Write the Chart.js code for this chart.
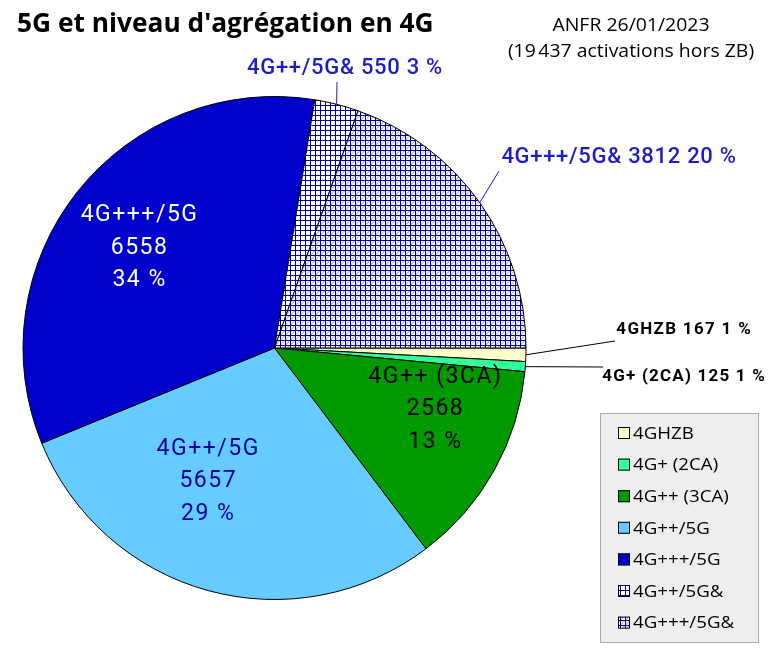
<!DOCTYPE html>
<html>
<head>
<meta charset="utf-8">
<script src="https://cdn.jsdelivr.net/npm/chart.js@4.4.0/dist/chart.umd.min.js"></script>
<style>
  html, body { margin: 0; padding: 0; background: #fff; }
  canvas { display: block; }
</style>
</head>
<body>
<canvas id="camembert" width="769" height="650"></canvas>
<script>
// données ANFR 26/01/2023
const categories = ['4GHZB', '4G+ (2CA)', '4G++ (3CA)', '4G++/5G', '4G+++/5G', '4G++/5G&', '4G+++/5G&'];
const activations = [167, 125, 2568, 5657, 6558, 550, 3812];
const titre = "5G et niveau d'agrégation en 4G";
const sousTitre = ['ANFR 26/01/2023', '(19\u202f437 activations hors ZB)'];

const cv = document.getElementById('camembert');
const ctx = cv.getContext('2d');

// motifs quadrillés pour les deux parts "&"
function motif(diagonale) {
  const t = document.createElement('canvas');
  t.width = 5; t.height = 5;
  const c = t.getContext('2d');
  c.fillStyle = '#fff';
  c.fillRect(0, 0, 5, 5);
  if (diagonale) {
    c.strokeStyle = '#8f8fdc';
    c.lineWidth = 1;
    c.beginPath();
    c.moveTo(0.5, 5);
    c.lineTo(5, 0.5);
    c.stroke();
  }
  c.fillStyle = '#000099';
  c.fillRect(0, 0, 5, 1);
  c.fillRect(0, 0, 1, 5);
  return ctx.createPattern(t, 'repeat');
}

const couleurs = ['#ffffcc', '#33ff99', '#009900', '#66ccff', '#0000cc', motif(false), motif(true)];

const total = activations.reduce((a, b) => a + b, 0);
const pct = (v) => Math.round(v / total * 100) + ' %';

// texte élargi horizontalement (le rendu d'origine est plus large)
function texte(c, t, x, y, sx) {
  c.save();
  c.translate(x, y);
  c.scale(sx, 1);
  c.fillText(t, 0, 0);
  c.restore();
}

// étiquettes dans les parts (r = fraction du rayon, da = décalage en degrés)
const etiqInt = {
  2: { r: 0.68, da: -8.4, couleur: '#000000' },
  3: { r: 0.59, da: 11.6, couleur: '#000099' },
  4: { r: 0.673, da: -1.9, couleur: '#ffffff' }
};
// étiquettes hors du camembert avec trait de rappel
const etiqExt = {
  0: { bout: [615, 341], txt: [752, 330], align: 'right', couleur: '#000', trait: '#000', font: 'bold 17px Roboto', esp: '1.3px' },
  1: { bout: [603, 367], txt: [766, 377], align: 'right', couleur: '#000', trait: '#000', font: 'bold 17px Roboto', esp: '1.2px' },
  5: { bout: [337, 82], txt: [345, 68], align: 'center', couleur: '#1c1cc8', trait: '#1c1cc8', font: '500 22px Roboto', esp: '0.7px' },
  6: { bout: [499, 171], txt: [619, 157], align: 'center', couleur: '#1c1cc8', trait: '#1c1cc8', font: '500 22px Roboto', esp: '0.7px' }
};

const habillage = {
  id: 'habillage',
  afterDraw(chart) {
    const c = chart.ctx;
    const arcs = chart.getDatasetMeta(0).data;
    c.save();
    c.textBaseline = 'middle';

    // titre
    c.fillStyle = '#000';
    c.textAlign = 'left';
    c.font = 'bold 26.3px "Open Sans"';
    c.fillText(titre, 17, 25);

    c.textAlign = 'center';
    c.font = '17.5px "Open Sans"';
    texte(c, sousTitre[0], 631, 26, 1.11);
    texte(c, sousTitre[1], 631, 52, 1.11);

    // étiquettes intérieures
    Object.keys(etiqInt).forEach((k) => {
      const i = +k, e = etiqInt[k];
      const a = arcs[i].getProps(['x', 'y', 'startAngle', 'endAngle', 'outerRadius'], true);
      const m = (a.startAngle + a.endAngle) / 2 + e.da * Math.PI / 180;
      const x = a.x + Math.cos(m) * a.outerRadius * e.r;
      const y = a.y + Math.sin(m) * a.outerRadius * e.r;
      c.fillStyle = e.couleur;
      c.font = '23px Roboto';
      c.letterSpacing = '1.5px';
      const lignes = [categories[i], String(activations[i]), pct(activations[i])];
      lignes.forEach((t, j) => c.fillText(t, x + 1, y + 1 + (j - 1) * 32.5));
    });

    // étiquettes extérieures
    Object.keys(etiqExt).forEach((k) => {
      const i = +k, e = etiqExt[k];
      const a = arcs[i].getProps(['x', 'y', 'startAngle', 'endAngle', 'outerRadius'], true);
      const m = (a.startAngle + a.endAngle) / 2;
      const x0 = a.x + Math.cos(m) * a.outerRadius;
      const y0 = a.y + Math.sin(m) * a.outerRadius;
      c.strokeStyle = e.trait;
      c.lineWidth = 1;
      c.beginPath();
      c.moveTo(x0, y0);
      c.lineTo(e.bout[0], e.bout[1]);
      c.stroke();
      c.fillStyle = e.couleur;
      c.font = e.font;
      c.letterSpacing = e.esp;
      c.textAlign = e.align;
      c.fillText(categories[i] + ' ' + activations[i] + ' ' + pct(activations[i]), e.txt[0], e.txt[1]);
    });

    // légende encadrée
    c.letterSpacing = '0px';
    c.fillStyle = '#eeeeee';
    c.fillRect(600, 413, 159, 230);
    c.strokeStyle = '#aaaaaa';
    c.strokeRect(600.5, 413.5, 158, 229);
    c.textAlign = 'left';
    c.font = '17px "Open Sans"';
    categories.forEach((nom, i) => {
      const yc = 433 + i * 31.6;
      c.fillStyle = couleurs[i];
      c.fillRect(618, yc - 6, 12, 12);
      c.strokeStyle = '#000';
      c.strokeRect(618.5, yc - 5.5, 11, 11);
      c.fillStyle = '#000';
      texte(c, nom, 633, yc + 1, 1.1);
    });
    c.restore();
  }
};

new Chart(cv, {
  type: 'pie',
  data: {
    labels: categories,
    datasets: [{
      data: activations,
      backgroundColor: couleurs,
      borderColor: '#000',
      borderWidth: 1
    }]
  },
  options: {
    responsive: false,
    devicePixelRatio: 1,
    animation: false,
    rotation: 90,
    layout: { padding: { top: 96, bottom: 50, left: 22, right: 242 } },
    plugins: {
      legend: { display: false },
      tooltip: { enabled: false },
      title: { display: false }
    }
  },
  plugins: [habillage]
});
</script>
</body>
</html>
